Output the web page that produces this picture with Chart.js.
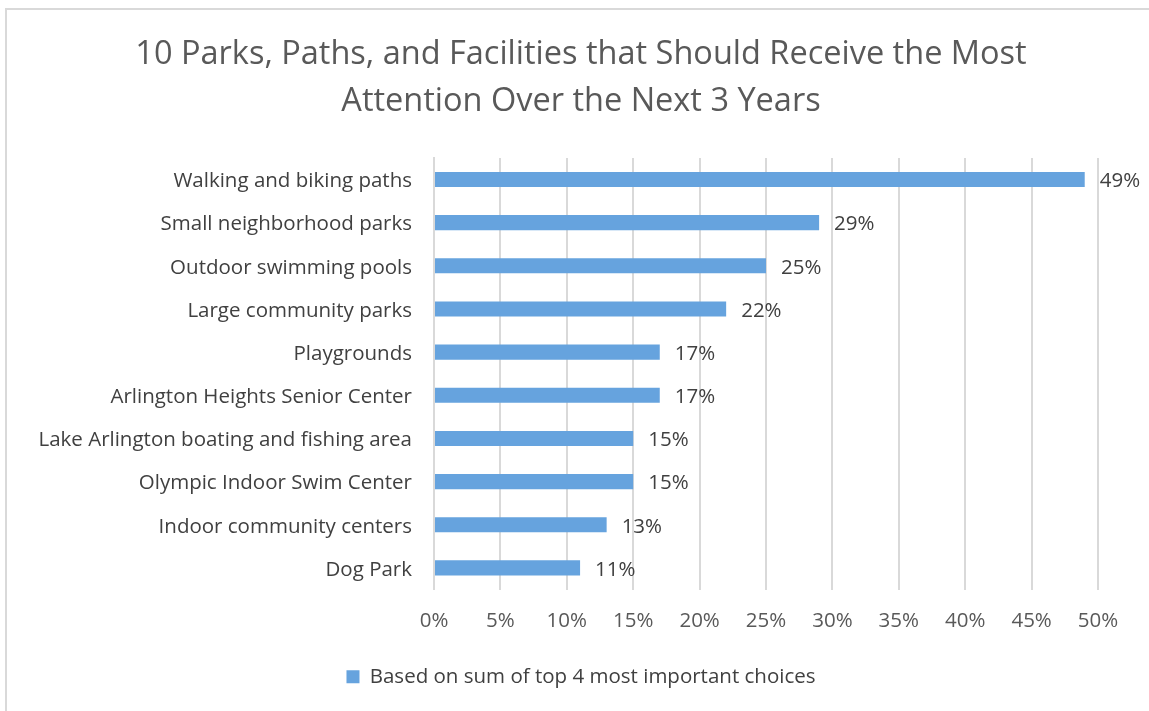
<!DOCTYPE html>
<html>
<head>
<meta charset="utf-8">
<script src="https://cdn.jsdelivr.net/npm/chart.js@4"></script>
<style>
  body { margin: 0; background: #fff; }
  #frame { position: absolute; left: 5px; top: 8px; width: 1160px; height: 720px; border: 2px solid #d9d9d9; }
  #wrap { position: absolute; left: 0; top: 0; width: 1149px; height: 711px; }
</style>
</head>
<body>
<div id="frame"></div>
<div id="wrap"><canvas id="chart"></canvas></div>
<script>
// 항목 이름과 값 (%)
const categories = [
    'Walking and biking paths',
    'Small neighborhood parks',
    'Outdoor swimming pools',
    'Large community parks',
    'Playgrounds',
    'Arlington Heights Senior Center',
    'Lake Arlington boating and fishing area',
    'Olympic Indoor Swim Center',
    'Indoor community centers',
    'Dog Park'
];
const values = [49, 29, 25, 22, 17, 17, 15, 15, 13, 11];
const seriesName = 'Based on sum of top 4 most important choices';
const titleLines = ['10 Parks, Paths, and Facilities that Should Receive the Most', 'Attention Over the Next 3 Years'];

const FONT = "'Open Sans', 'Noto Sans', sans-serif";

// 막대 끝에 값 표시
const valueLabels = {
    id: 'valueLabels',
    afterDatasetsDraw(chart) {
        const { ctx } = chart;
        const meta = chart.getDatasetMeta(0);
        ctx.save();
        ctx.font = `20.5px ${FONT}`;
        ctx.fillStyle = '#404040';
        ctx.textBaseline = 'middle';
        ctx.textAlign = 'left';
        meta.data.forEach((bar, i) => {
            ctx.fillText(values[i] + '%', bar.x + 15, bar.y + 2);
        });
        ctx.restore();
    }
};

// 제목과 범례를 원본처럼 오른쪽으로 약간 이동 (y축 라벨은 잘리지 않게 유지)
const shiftBlocks = {
    id: 'shiftBlocks',
    afterLayout(chart) {
        if (chart.titleBlock) chart.titleBlock.left += 64;
        if (chart.legend) chart.legend.left += 64;
    }
};

new Chart(document.getElementById('chart'), {
    type: 'bar',
    data: {
        labels: categories,
        datasets: [{
            label: seriesName,
            data: values,
            backgroundColor: '#66a3de',
            borderColor: '#66a3de',
            borderWidth: 0,
            barPercentage: 0.7,
            categoryPercentage: 0.5
        }]
    },
    options: {
        indexAxis: 'y',
        responsive: true,
        maintainAspectRatio: false,
        animation: false,
        layout: { padding: { top: 0, right: 51, bottom: 14, left: 0 } },
        scales: {
            x: {
                min: 0,
                max: 50,
                ticks: {
                    stepSize: 5,
                    color: '#595959',
                    font: { family: FONT, size: 20.5 },
                    padding: 19,
                    callback: v => v + '%'
                },
                grid: { color: '#d9d9d9', lineWidth: 2, drawTicks: false },
                border: { display: false },
                afterFit: scale => { scale.height = 69; }
            },
            y: {
                ticks: {
                    color: '#404040',
                    font: { family: FONT, size: 20.5 },
                    padding: 22,
                    labelOffset: 2
                },
                grid: { display: false, drawTicks: false },
                border: { display: true, color: '#d9d9d9', width: 2 },
                afterFit: scale => { scale.width = 434; }
            }
        },
        plugins: {
            title: {
                display: true,
                text: titleLines,
                color: '#595959',
                font: { family: FONT, size: 32.5, weight: 'normal', lineHeight: 1.46 },
                padding: { top: 31, bottom: 32 }
            },
            legend: {
                position: 'bottom',
                labels: {
                    color: '#404040',
                    font: { family: FONT, size: 20.5 },
                    boxWidth: 13,
                    boxHeight: 13,
                    padding: 8
                }
            },
            tooltip: { enabled: false }
        }
    },
    plugins: [valueLabels, shiftBlocks]
});
</script>
</body>
</html>
